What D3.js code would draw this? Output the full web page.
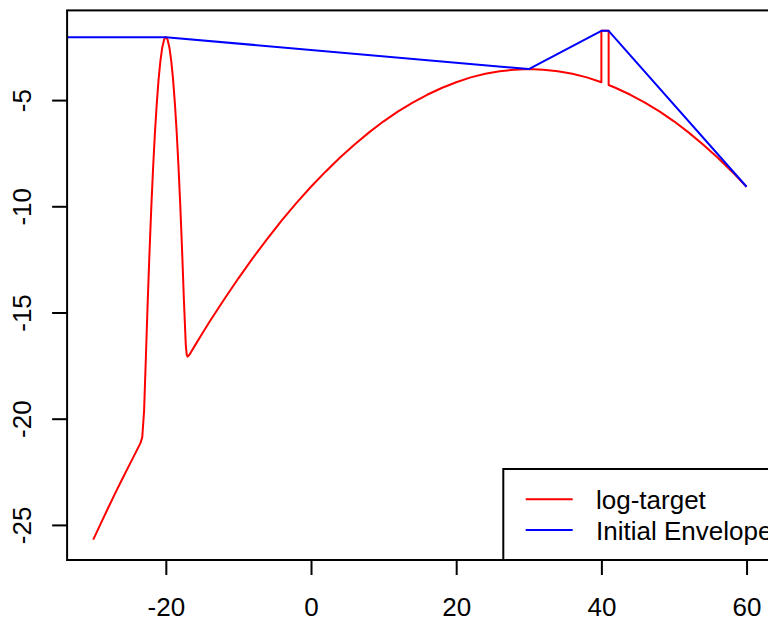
<!DOCTYPE html>
<html>
<head>
<meta charset="utf-8">
<script src="https://cdn.jsdelivr.net/npm/d3@7"></script>
<style>
  body { margin: 0; background: #fff; }
  text { font-family: "Liberation Sans", Arial, Helvetica, sans-serif; }
</style>
</head>
<body>
<div id="chart"></div>
<script>
// log-target curve
var targetX = [-30, -29, -28, -27, -26, -25, -24, -23.5, -23.25, -23, -22.75, -22.5, -22.25, -22,
  -21.75, -21.5, -21.25, -21, -20.75, -20.5, -20.25, -20.125, -20, -19.875, -19.75, -19.5, -19.25,
  -19, -18.75, -18.5, -18.25, -18, -17.75, -17.5, -17.25, -17.125, -17, -16.75, -16.5, -16, -15, -14,
  -12, -10, -8, -6, -4, -2, 0, 2, 4, 6, 8, 10, 12, 14, 16, 18, 20, 22, 24, 26, 28, 30, 32, 34, 36, 38,
  40, 40, 41, 41, 42, 44, 46, 48, 50, 52, 54, 56, 58, 60];
var targetY = [-25.69, -24.96, -24.24, -23.53, -22.84, -22.16, -21.49, -21.15, -20.88, -19.67, -17.14,
  -14.54, -12.17, -10.04, -8.17, -6.54, -5.17, -4.04, -3.17, -2.54, -2.17, -2.07, -2.04, -2.07, -2.17,
  -2.54, -3.17, -4.04, -5.17, -6.54, -8.17, -10.04, -12.16, -14.49, -16.53, -16.98, -17.08, -16.99,
  -16.85, -16.56, -16.00, -15.45, -14.40, -13.39, -12.43, -11.52, -10.65, -9.84, -9.08, -8.37, -7.70,
  -7.09, -6.52, -6.00, -5.53, -5.12, -4.75, -4.43, -4.16, -3.93, -3.76, -3.64, -3.57, -3.54, -3.57,
  -3.64, -3.76, -3.93, -4.16, -1.74, -1.74, -4.29, -4.43, -4.75, -5.12, -5.53, -6.00, -6.52, -7.09,
  -7.70, -8.37, -9.08];

// initial envelope (piecewise linear)
var envX = [-35, -20, 30, 40, 41, 60];
var envY = [-2.04, -2.04, -3.54, -1.74, -1.74, -9.08];

var xTicks = [-20, 0, 20, 40, 60];
var yTicks = [-25, -20, -15, -10, -5];
var legendLabels = ["log-target", "Initial Envelope"];
var legendColors = ["#ff0000", "#0000ff"];

var xlim = [-33.6, 63.6];
var ylim = [-26.652, -0.778];

var width = 768, height = 620;
var margin = {top: 10.4, left: 67.1, plotRight: 772.7, bottom: 560.0};

var svg = d3.select('#chart')
  .append('svg')
    .attr('width', width)
    .attr('height', height);

var x = d3.scaleLinear().domain(xlim).range([margin.left, margin.plotRight]);
var y = d3.scaleLinear().domain(ylim).range([margin.bottom, margin.top]);

// plain hyphen minus, like R
var fmt = function(d) { return String(d); };

// clip to the plot region
svg.append("clipPath").attr("id", "plotclip")
  .append("rect")
    .attr("x", x(xlim[0])).attr("y", y(ylim[1]))
    .attr("width", x(xlim[1]) - x(xlim[0]))
    .attr("height", y(ylim[0]) - y(ylim[1]));

var line = d3.line()
  .x(function(d) { return x(d[0]); })
  .y(function(d) { return y(d[1]); });

var target = targetX.map(function(v, i) { return [v, targetY[i]]; });
var env = envX.map(function(v, i) { return [v, envY[i]]; });

var plot = svg.append("g").attr("clip-path", "url(#plotclip)");

plot.append("path")
  .datum(target)
  .attr("d", line)
  .attr("fill", "none")
  .attr("stroke", "#ff0000")
  .attr("stroke-width", 2)
  .attr("stroke-linejoin", "round");

plot.append("path")
  .datum(env)
  .attr("d", line)
  .attr("fill", "none")
  .attr("stroke", "#0000ff")
  .attr("stroke-width", 2)
  .attr("stroke-linejoin", "round");

// box round the plot
svg.append("rect")
  .attr("x", x(xlim[0])).attr("y", y(ylim[1]))
  .attr("width", x(xlim[1]) - x(xlim[0]))
  .attr("height", y(ylim[0]) - y(ylim[1]))
  .attr("fill", "none")
  .attr("stroke", "#000")
  .attr("stroke-width", 2);

// X axis
var xAxis = svg.append("g")
  .attr("transform", "translate(0," + margin.bottom + ")")
  .call(d3.axisBottom(x).tickValues(xTicks).tickFormat(fmt).tickSize(15).tickSizeOuter(0));
xAxis.select(".domain").remove();
xAxis.selectAll(".tick line").attr("stroke", "#000").attr("stroke-width", 2);
xAxis.selectAll(".tick text")
  .attr("y", 56)
  .attr("dy", 0)
  .attr("fill", "#000")
  .style("font-size", "26px");

// Y axis, labels turned like R's default
var yAxis = svg.append("g")
  .attr("transform", "translate(" + margin.left + ",0)")
  .call(d3.axisLeft(y).tickValues(yTicks).tickFormat(fmt).tickSize(15).tickSizeOuter(0));
yAxis.select(".domain").remove();
yAxis.selectAll(".tick line").attr("stroke", "#000").attr("stroke-width", 2);
yAxis.selectAll(".tick text")
  .attr("x", 0)
  .attr("dy", 0)
  .attr("text-anchor", "middle")
  .attr("transform", "translate(-36,0) rotate(-90)")
  .attr("fill", "#000")
  .style("font-size", "26px");

// Legend in the bottom right corner
var legend = svg.append("g");
legend.append("rect")
  .attr("x", 503.3).attr("y", 469)
  .attr("width", margin.plotRight - 503.3)
  .attr("height", margin.bottom - 469)
  .attr("fill", "#fff")
  .attr("stroke", "#000")
  .attr("stroke-width", 2);

legendLabels.forEach(function(lab, i) {
  var ly = 499.3 + i * 30.8;
  legend.append("line")
    .attr("x1", 525.7).attr("x2", 572.7)
    .attr("y1", ly).attr("y2", ly)
    .attr("stroke", legendColors[i])
    .attr("stroke-width", 2);
  legend.append("text")
    .attr("x", 596)
    .attr("y", ly + 9.5)
    .attr("fill", "#000")
    .style("font-size", "26px")
    .text(lab);
});
</script>
</body>
</html>
